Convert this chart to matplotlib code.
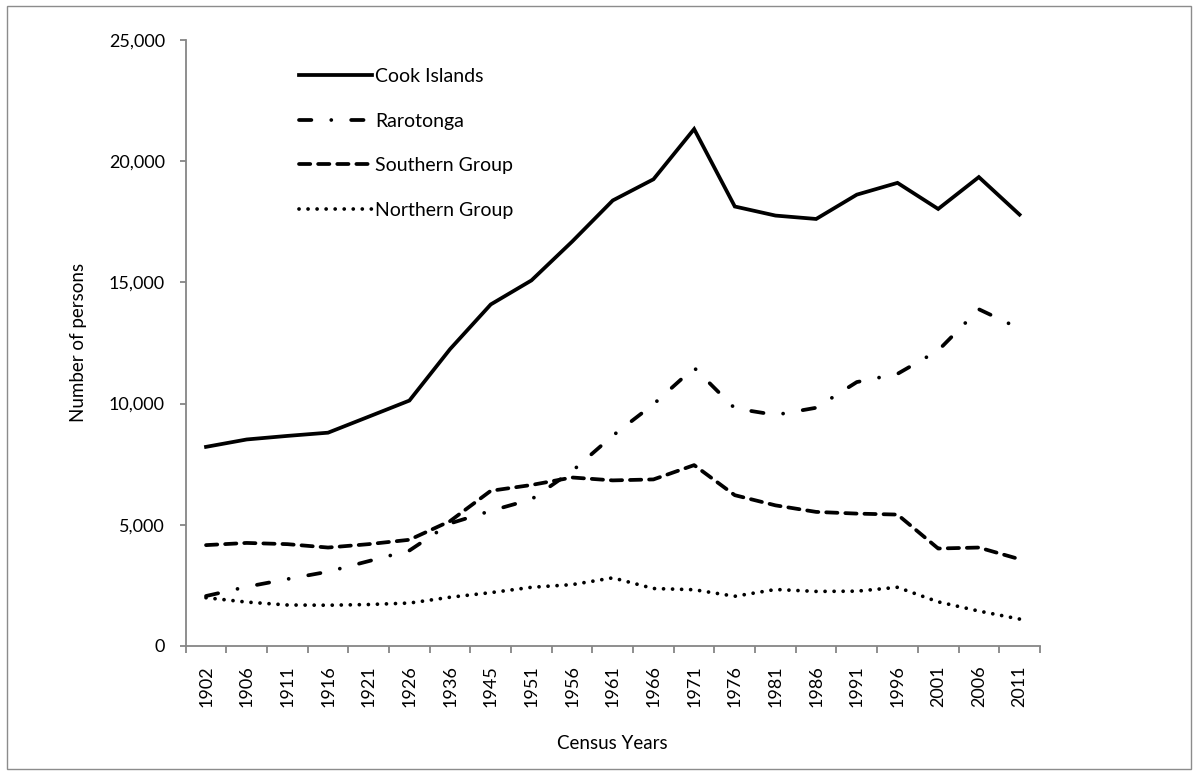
import numpy as np
import matplotlib.pyplot as plt
from matplotlib.patches import Rectangle
from matplotlib.ticker import FuncFormatter

plt.rcParams['font.family'] = ['Lato', 'DejaVu Sans']

# Census population, Cook Islands
years = ['1902', '1906', '1911', '1916', '1921', '1926', '1936', '1945', '1951', '1956',
         '1961', '1966', '1971', '1976', '1981', '1986', '1991', '1996', '2001', '2006', '2011']
cook_islands = [8213, 8518, 8665, 8798, 9459, 10123, 12246, 14088, 15079, 16680,
                18378, 19251, 21323, 18128, 17754, 17614, 18617, 19103, 18027, 19342, 17794]
rarotonga = [2060, 2441, 2759, 3064, 3500, 3936, 5054, 5573, 6048, 7212,
             8676, 9971, 11478, 9802, 9530, 9826, 10886, 11225, 12188, 13890, 13095]
southern = [4160, 4250, 4200, 4060, 4200, 4380, 5150, 6400, 6640, 6950,
            6830, 6870, 7460, 6220, 5800, 5530, 5460, 5420, 4020, 4060, 3580]
northern = [1990, 1810, 1690, 1680, 1710, 1770, 2010, 2200, 2420, 2530,
            2810, 2370, 2320, 2050, 2330, 2250, 2260, 2420, 1820, 1440, 1110]

fig = plt.figure(figsize=(11.98, 7.75), dpi=100)
ax = fig.add_axes([0.155, 0.1665, 0.713, 0.782])
# light grey frame round the whole chart
fig.patches.append(Rectangle((7 / 1198, 6 / 775), 1 - 14 / 1198, 1 - 12 / 775,
                             transform=fig.transFigure, fill=False,
                             edgecolor='#8c8c8c', linewidth=1))

x = np.arange(len(years))
lw = 2.7
ax.plot(x, cook_islands, color='black', lw=lw, solid_joinstyle='miter', label='Cook Islands')
ax.plot(x, rarotonga, color='black', lw=lw, dashes=(3.3, 5.3, 0.01, 5.3),
        dash_capstyle='round', label='Rarotonga')
ax.plot(x, southern, color='black', lw=lw, dashes=(3.0, 2.1), dash_capstyle='round',
        label='Southern Group')
ax.plot(x, northern, color='black', lw=lw, dashes=(0.01, 2.4), dash_capstyle='round',
        label='Northern Group')

ax.set_xlim(-0.5, len(years) - 0.5)
ax.set_ylim(0, 25000)
ax.set_yticks(np.arange(0, 25001, 5000))
ax.yaxis.set_major_formatter(FuncFormatter(lambda v, p: '{:,.0f}'.format(v)))
ax.set_xticks(x)
ax.set_xticklabels(years, rotation=90)
ax.set_xticks(np.arange(-0.5, len(years)), minor=True)

for s in ['top', 'right']:
    ax.spines[s].set_visible(False)
for s in ['left', 'bottom']:
    ax.spines[s].set_color('#868686')
    ax.spines[s].set_linewidth(1.3)
ax.tick_params(axis='y', which='major', length=4, width=1.3, color='#868686',
               labelsize=13, pad=11)
ax.tick_params(axis='x', which='major', length=0, labelsize=13, pad=14)
ax.tick_params(axis='x', which='minor', length=5, width=1.3, color='#868686')

ax.set_ylabel('Number of persons', fontsize=13.5, labelpad=16)
ax.set_xlabel('Census Years', fontsize=13.5, labelpad=20)

ax.legend(loc='upper left', bbox_to_anchor=(0.124, 0.966), frameon=False, fontsize=14,
          handlelength=3.76, handletextpad=0.15, labelspacing=1.41, borderaxespad=0)

fig.savefig('out.png', dpi=100)
